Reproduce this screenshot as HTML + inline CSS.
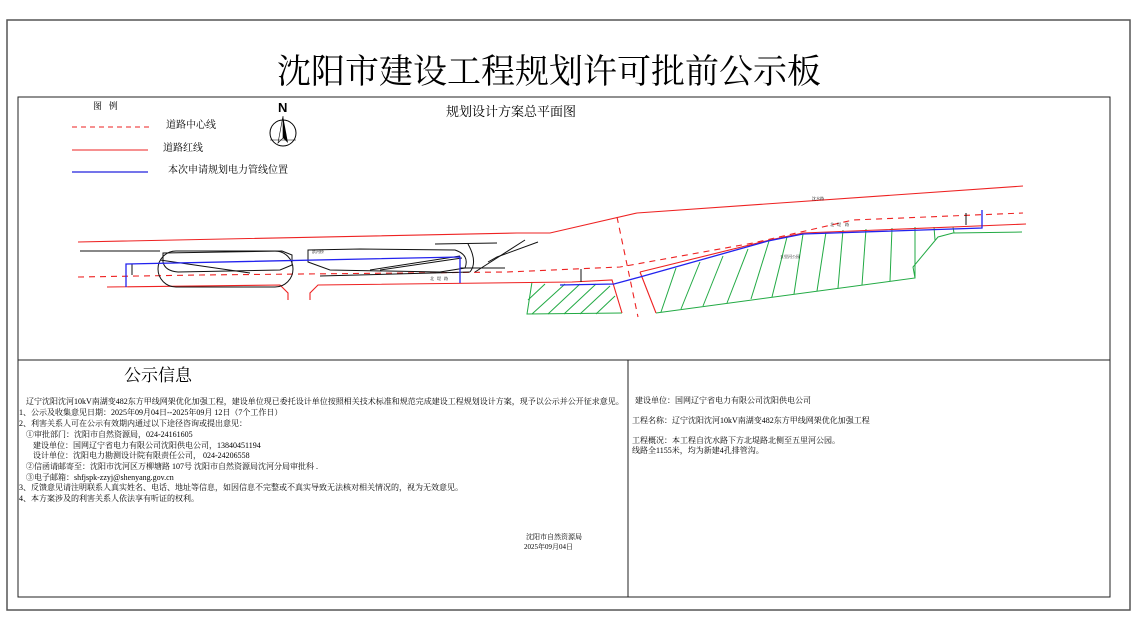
<!DOCTYPE html>
<html><head><meta charset="utf-8"><style>
body{margin:0;background:#fff;width:1139px;height:623px;position:relative;overflow:hidden;font-family:"Liberation Serif","Noto Serif CJK SC","Noto Sans CJK SC",serif;color:#000}
.t{position:absolute;white-space:nowrap;font-size:8px;line-height:10px}
</style></head><body>
<svg width="1139" height="623" style="position:absolute;left:0;top:0">
<rect x="7" y="20" width="1123" height="590" fill="none" stroke="#555" stroke-width="1.5"/>
<rect x="18" y="97" width="1092" height="500" fill="none" stroke="#222" stroke-width="1"/>
<line x1="18" y1="360" x2="1110" y2="360" stroke="#222"/>
<line x1="628" y1="360" x2="628" y2="597" stroke="#222"/>
<line x1="72" y1="127" x2="150" y2="127" stroke="#e22" stroke-dasharray="5,4"/>
<line x1="72" y1="150" x2="148" y2="150" stroke="#e22"/>
<line x1="72" y1="172" x2="148" y2="172" stroke="#22d" stroke-width="1.2"/>
<circle cx="283" cy="133" r="13" fill="none" stroke="#000"/>
<polygon points="283,116 288,143 283,138" fill="#000"/>
<polygon points="283,116 278,143 283,138" fill="none" stroke="#000" stroke-width=".6"/>
<line x1="270" y1="140" x2="296" y2="140" stroke="#000" stroke-width=".5"/>
<g stroke="#2a4" fill="none" stroke-width="1">
<polyline points="532,282 527,314 622,313"/>
<line x1="532" y1="314" x2="565" y2="284"/><line x1="548" y1="314" x2="580" y2="284"/><line x1="564" y1="314" x2="596" y2="284"/><line x1="580" y1="314" x2="610" y2="286"/><line x1="596" y1="314" x2="615" y2="296"/><line x1="528" y1="300" x2="545" y2="284"/>
<polyline points="656,313 915,278 913,267 938,237 953,233 1022,232"/>
<line x1="661" y1="312" x2="676" y2="268"/><line x1="681" y1="309" x2="700" y2="262"/><line x1="703" y1="306" x2="723" y2="256"/><line x1="727" y1="303" x2="748" y2="249"/><line x1="751" y1="299" x2="769" y2="241"/><line x1="772" y1="297" x2="787" y2="237"/><line x1="794" y1="294" x2="803" y2="234"/><line x1="817" y1="291" x2="826" y2="232"/><line x1="838" y1="288" x2="843" y2="230"/><line x1="862" y1="285" x2="866" y2="229"/><line x1="890" y1="281" x2="892" y2="228"/><line x1="915" y1="278" x2="915" y2="227"/><line x1="935" y1="240" x2="934" y2="227"/><line x1="954" y1="233" x2="953" y2="227"/>
</g>
<g stroke="#e22" fill="none" stroke-width="1.1">
<polyline points="78,242 517,233 550,233 637,213 1023,186"/>
<polyline points="107,287 280,285 288,293 288,300"/>
<polyline points="310,300 310,293 318,285 572,282 612,280 622,313"/>
<polyline points="640,272 770,240 803,233 1026,224"/>
<line x1="640" y1="272" x2="656" y2="313"/>
</g>
<g stroke="#e22" fill="none" stroke-width="1.1" stroke-dasharray="6,5">
<polyline points="78,277 200,275 507,272 620,267 753,243 853,220 1023,213"/>
<line x1="617" y1="217" x2="638" y2="317"/>
</g>
<g stroke="#111" fill="none" stroke-width="1">
<line x1="80" y1="251" x2="160" y2="251"/>
<rect x="158" y="251" width="135" height="36" rx="18"/>
<path d="M163,253 L282,251 L292,255 L292,265 L280,270 L178,272 Q165,271 163,262 Z"/>
<line x1="160" y1="260" x2="250" y2="273"/>
<path d="M308,250 L360,249 L455,250 Q470,255 465,268 L440,272 L330,270 L308,262 Z"/>
<line x1="320" y1="276" x2="470" y2="272"/>
<line x1="370" y1="270" x2="460" y2="256"/>
<line x1="380" y1="270" x2="462" y2="258"/>
<path d="M468,244 Q478,262 470,272"/>
<line x1="435" y1="244" x2="497" y2="243"/>
<polyline points="488,262 497,257 538,242"/>
<line x1="475" y1="272" x2="525" y2="240"/>
<line x1="460" y1="268" x2="505" y2="268"/>
<line x1="132" y1="264" x2="132" y2="275"/>
<line x1="581" y1="269" x2="581" y2="282"/>
<line x1="966" y1="213" x2="966" y2="225"/>
</g>
<g stroke="#22e" fill="none" stroke-width="1.3">
<polyline points="126,287 126,264 460,257 460,283"/>
<polyline points="560,285 614,284 640,277 768,241 803,234 982,228 982,210"/>
</g>
</svg>
<div class="t" style="left:277px;top:52px;font-size:34px;line-height:42px;">沈阳市建设工程规划许可批前公示板</div>
<div class="t" style="left:93px;top:101px;font-size:9px">图&nbsp;&nbsp;&nbsp;例</div>
<div class="t" style="left:278px;top:101px;font-size:13px;line-height:14px;font-family:'Liberation Sans',sans-serif;font-weight:bold">N</div>
<div class="t" style="left:446px;top:104px;font-size:13px;line-height:15px">规划设计方案总平面图</div>
<div class="t" style="left:166px;top:121px;font-size:10px">道路中心线</div>
<div class="t" style="left:163px;top:144px;font-size:10px">道路红线</div>
<div class="t" style="left:168px;top:166px;font-size:10px">本次申请规划电力管线位置</div>
<div class="t" style="left:312px;top:249px;font-size:4px;line-height:5px">滨河桥</div>
<div class="t" style="left:812px;top:196px;font-size:4px;line-height:5px">沈水路</div>
<div class="t" style="left:780px;top:254px;font-size:4px;line-height:5px">五里河公园</div>
<div class="t" style="left:830px;top:222px;font-size:4px;line-height:5px">北&nbsp;&nbsp;&nbsp;堤&nbsp;&nbsp;&nbsp;&nbsp;路</div>
<div class="t" style="left:430px;top:276px;font-size:4px;line-height:5px">北&nbsp;&nbsp;&nbsp;堤&nbsp;&nbsp;&nbsp;路</div>
<div class="t" style="left:124px;top:366px;font-size:17px;line-height:20px">公示信息</div>
<div class="t" style="left:26px;top:397px">辽宁沈阳沈河10kV南湖变482东方甲线网架优化加强工程，建设单位现已委托设计单位按照相关技术标准和规范完成建设工程规划设计方案，现予以公示并公开征求意见。</div>
<div class="t" style="left:19px;top:408px">1、公示及收集意见日期：2025年09月04日--2025年09月 12日（7个工作日）</div>
<div class="t" style="left:19px;top:419px">2、利害关系人可在公示有效期内通过以下途径咨询或提出意见：</div>
<div class="t" style="left:26px;top:430px">①审批部门：沈阳市自然资源局，024-24161605</div>
<div class="t" style="left:33px;top:441px">建设单位：国网辽宁省电力有限公司沈阳供电公司，13840451194</div>
<div class="t" style="left:33px;top:451px">设计单位：沈阳电力勘测设计院有限责任公司，&nbsp;024-24206558</div>
<div class="t" style="left:26px;top:462px">②信函请邮寄至：沈阳市沈河区万柳塘路 107号 沈阳市自然资源局沈河分局审批科 .</div>
<div class="t" style="left:26px;top:473px">③电子邮箱：shfjspk-zzyj@shenyang.gov.cn</div>
<div class="t" style="left:19px;top:483px">3、反馈意见请注明联系人真实姓名、电话、地址等信息，如因信息不完整或不真实导致无法核对相关情况的，视为无效意见。</div>
<div class="t" style="left:19px;top:494px">4、本方案涉及的利害关系人依法享有听证的权利。</div>
<div class="t" style="left:526px;top:532px;font-size:7px">沈阳市自然资源局</div>
<div class="t" style="left:524px;top:542px;font-size:7px">2025年09月04日</div>
<div class="t" style="left:635px;top:396px">建设单位：国网辽宁省电力有限公司沈阳供电公司</div>
<div class="t" style="left:632px;top:416px">工程名称：辽宁沈阳沈河10kV南湖变482东方甲线网架优化加强工程</div>
<div class="t" style="left:632px;top:436px">工程概况：本工程自沈水路下方北堤路北侧至五里河公园。</div>
<div class="t" style="left:632px;top:446px">线路全1155米，均为新建4孔排管沟。</div>
</body></html>
